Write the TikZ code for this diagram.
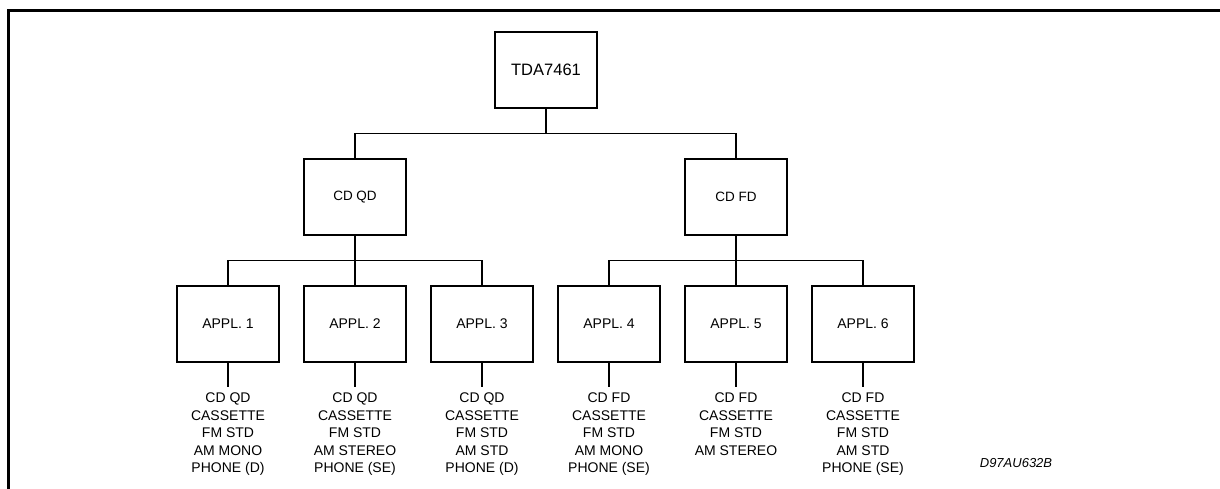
\documentclass[tikz,border=0pt]{standalone}
\usepackage{fontspec}
\setmainfont{Liberation Sans}
\usepackage{tikz}

\begin{document}
\begin{tikzpicture}[x=1pt,y=-1pt,
  blk/.style={draw,line width=1.3pt,minimum width=102pt,minimum height=76pt,inner sep=0pt},
  feat/.style={align=center,font=\fontsize{14}{17.5}\selectfont,inner xsep=1pt,inner ysep=6pt,anchor=north}]
\useasboundingbox (0,0) rectangle (1220,488);
% Frame
\draw[line width=3pt] (8,520) -- (8,10) -- (1240,10);

% Top level
\node[blk,font=\fontsize{16.5}{20}\selectfont] (top) at (546,70) {TDA7461};

% Second level
\node[blk,font=\fontsize{13.5}{16}\selectfont] (cdqd) at (355,197) {CD QD};
\node[blk,font=\fontsize{13.5}{16}\selectfont] (cdfd) at (736,197) {CD FD};
\draw[line width=1.3pt] (top.south) -- ++(0,25) -| (cdqd.north);
\draw[line width=1.3pt] (top.south) -- ++(0,25) -| (cdfd.north);

% Applications
\foreach \i/\x in {1/228,2/355,3/482,4/609,5/736,6/863}
  \node[blk,font=\fontsize{14}{16}\selectfont] (appl\i) at (\x,324) {APPL. \i};
\foreach \i in {1,2,3}
  \draw[line width=1.3pt] (cdqd.south) -- ++(0,25) -| (appl\i.north);
\foreach \i in {4,5,6}
  \draw[line width=1.3pt] (cdfd.south) -- ++(0,25) -| (appl\i.north);

% Features
\node[feat] (lab1) at (228,387) {CD QD\\CASSETTE\\FM STD\\AM MONO\\PHONE (D)};
\node[feat] (lab2) at (355,387) {CD QD\\CASSETTE\\FM STD\\AM STEREO\\PHONE (SE)};
\node[feat] (lab3) at (482,387) {CD QD\\CASSETTE\\FM STD\\AM STD\\PHONE (D)};
\node[feat] (lab4) at (609,387) {CD FD\\CASSETTE\\FM STD\\AM MONO\\PHONE (SE)};
\node[feat] (lab5) at (736,387) {CD FD\\CASSETTE\\FM STD\\AM STEREO};
\node[feat] (lab6) at (863,387) {CD FD\\CASSETTE\\FM STD\\AM STD\\PHONE (SE)};
\foreach \i in {1,...,6}
  \draw[line width=1.3pt] (appl\i.south) -- (lab\i.north);

\node[font=\fontsize{13}{15}\selectfont\itshape] (code) at (1016,463) {D97AU632B};
\end{tikzpicture}
\end{document}
